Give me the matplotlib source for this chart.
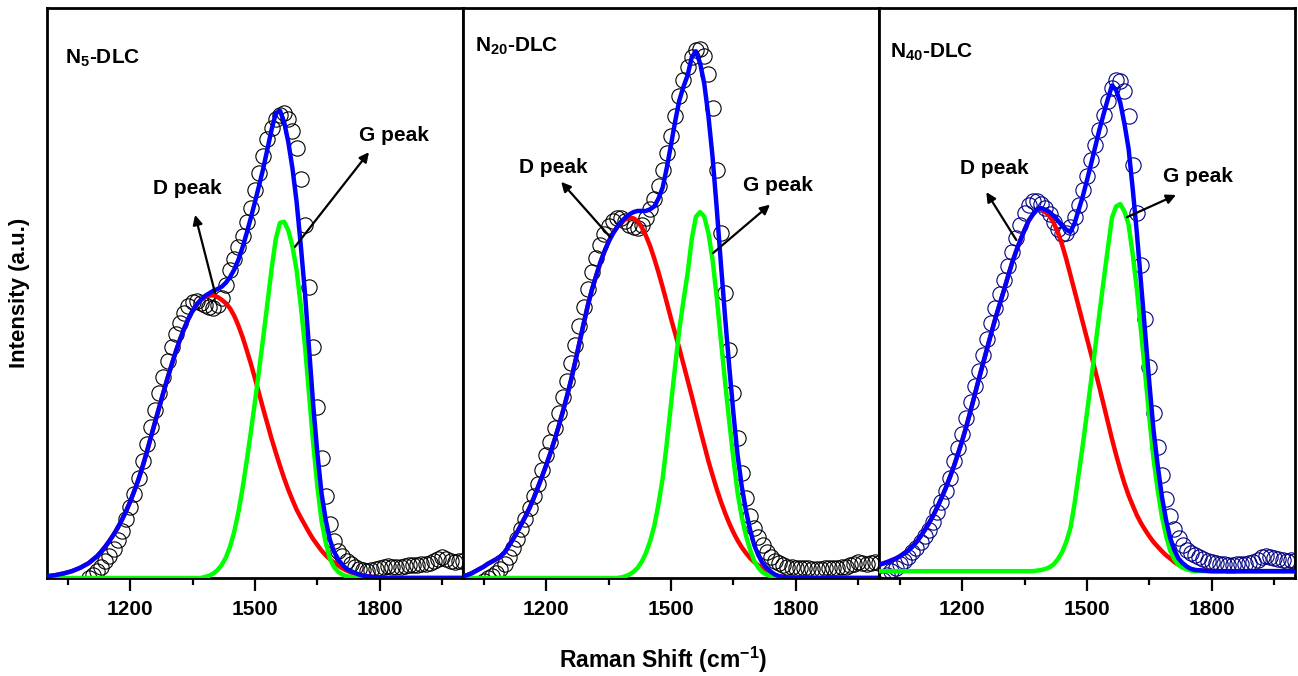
"""
Raman spectra of N-doped DLC films with D / G peak deconvolution.
Three side-by-side panels sharing the same Raman shift axis.
"""

import numpy as np
import matplotlib
matplotlib.use("Agg")
import matplotlib.pyplot as plt
from matplotlib.ticker import MultipleLocator, AutoMinorLocator

plt.rcParams["font.family"] = "Liberation Sans"
plt.rcParams["mathtext.fontset"] = "custom"
plt.rcParams["mathtext.rm"] = "Liberation Sans:bold"
plt.rcParams["mathtext.bf"] = "Liberation Sans:bold"

# ============================================================
# DATA
# ============================================================

# everything is sampled every 10 cm-1; fits run from 1000 to 2000
FIT_START = 1000
STEP = 10

# ---- N5-DLC ----
n5_data_start = 1100
n5_data = [0.0, 0.5, 1.2, 2.0, 2.9, 3.9, 5.1, 6.6, 8.3, 10.3,
           12.5, 14.8, 17.5, 20.5, 23.5, 26.5, 29.5, 32.5, 35.2, 38.0,
           40.5, 42.8, 44.8, 46.5, 47.8, 48.5, 48.6, 48.3, 47.9, 47.5,
           47.4, 47.9, 49.2, 51.4, 54.0, 56.0, 58.0, 60.0, 62.5, 65.0,
           68.0, 71.0, 74.0, 77.0, 79.0, 80.5, 81.2, 81.5, 80.5, 78.5,
           75.5, 70.0, 62.0, 51.0, 40.5, 30.0, 21.0, 14.3, 9.5, 6.5,
           4.8, 3.8, 3.0, 2.4, 1.9, 1.5, 1.4, 1.3, 1.4, 1.6,
           1.8, 2.0, 2.1, 2.0, 1.9, 2.0, 2.1, 2.2, 2.3, 2.3,
           2.4, 2.5, 2.7, 3.0, 3.4, 3.6, 3.4, 3.0, 2.8, 2.9,
           3.0]
n5_d_fit = [0.3, 0.4, 0.5, 0.65, 0.8, 1.0, 1.2, 1.5, 1.8, 2.2,
            2.6, 3.2, 3.8, 4.6, 5.5, 6.5, 7.6, 8.8, 10.2, 11.7,
            13.4, 15.3, 17.3, 19.6, 22.1, 24.8, 27.4, 30.0, 32.6, 35.1,
            37.5, 39.8, 41.9, 43.8, 45.5, 46.9, 48.0, 48.8, 49.3, 49.55,
            49.6, 49.3, 48.8, 48.2, 47.3, 46.0, 44.3, 42.3, 40.0, 37.6,
            35.0, 32.3, 29.6, 27.0, 24.4, 22.0, 19.7, 17.5, 15.5, 13.7,
            12.0, 10.6, 9.3, 8.0, 6.8, 5.8, 4.8, 4.0, 3.3, 2.7,
            2.2, 1.7, 1.3, 1.0, 0.8, 0.6, 0.4, 0.3, 0.2, 0.15,
            0.1, 0.05, 0, 0, 0, 0, 0, 0, 0, 0,
            0, 0, 0, 0, 0, 0, 0, 0, 0, 0,
            0]
n5_g_fit = [0, 0, 0, 0, 0, 0, 0, 0, 0, 0,
            0, 0, 0, 0, 0, 0, 0, 0, 0, 0,
            0, 0, 0, 0, 0, 0, 0, 0, 0, 0,
            0, 0, 0, 0, 0, 0, 0, 0, 0.2, 0.4,
            0.8, 1.4, 2.3, 3.6, 5.5, 8.1, 11.5, 15.7, 20.5, 25.6,
            31.0, 36.6, 42.3, 48.3, 54.3, 59.5, 62.3, 62.5, 61.0, 58.2,
            54.0, 47.8, 40.8, 32.2, 23.5, 16.0, 10.0, 6.2, 3.4, 1.9,
            1.1, 0.6, 0.3, 0.2, 0.1, 0, 0, 0, 0, 0,
            0, 0, 0, 0, 0, 0, 0, 0, 0, 0,
            0, 0, 0, 0, 0, 0, 0, 0, 0, 0,
            0]

# ---- N20-DLC ----
n20_data_start = 1050
n20_data = [-0.5, 0.0, 0.3, 0.8, 1.5,
            2.5, 3.7, 5.2, 6.9, 8.6, 10.3, 12.2, 14.3, 16.5, 19.0,
            21.5, 23.8, 26.4, 29.0, 31.7, 34.6, 37.7, 40.9, 44.2, 47.5,
            50.7, 53.6, 56.2, 58.5, 60.4, 61.8, 62.7, 63.2, 63.2, 62.7,
            62.0, 61.5, 61.4, 62.0, 63.2, 64.8, 66.5, 68.8, 71.5, 74.5,
            77.5, 81.0, 84.5, 87.3, 89.6, 91.4, 92.6, 92.8, 91.5, 88.5,
            82.5, 71.5, 60.5, 50.0, 40.0, 32.4, 24.5, 18.5, 14.0, 10.8,
            8.8, 7.2, 5.8, 4.6, 3.7, 3.0, 2.6, 2.3, 2.0, 1.9,
            1.8, 1.8, 1.7, 1.7, 1.6, 1.6, 1.6, 1.7, 1.7, 1.8,
            1.8, 1.9, 2.0, 2.2, 2.5, 2.8, 2.7, 2.5, 2.6, 2.8,
            2.6]
n20_d_fit = [0.3, 0.5, 0.8, 1.2, 1.6, 2.0, 2.5, 2.9, 3.3, 3.8,
             4.5, 5.6, 6.8, 8.0, 9.4, 10.8, 12.3, 14.0, 15.9, 17.8,
             19.8, 21.9, 24.2, 26.6, 29.2, 31.9, 34.8, 38.0, 41.3, 44.6,
             47.8, 50.6, 53.0, 55.3, 57.3, 59.0, 60.4, 61.5, 62.4, 62.9,
             63.2, 63.1, 62.6, 61.5, 60.0, 58.2, 56.0, 53.6, 51.0, 48.3,
             45.5, 42.9, 40.3, 37.5, 34.7, 31.9, 29.0, 26.1, 23.3, 20.5,
             18.0, 15.6, 13.4, 11.4, 9.6, 8.0, 6.6, 5.4, 4.4, 3.5,
             2.8, 2.2, 1.6, 1.2, 0.8, 0.5, 0.3, 0.2, 0.1, 0.05,
             0, 0, 0, 0, 0, 0, 0, 0, 0, 0,
             0, 0, 0, 0, 0, 0, 0, 0, 0, 0,
             0]
n20_g_fit = [0, 0, 0, 0, 0, 0, 0, 0, 0, 0,
             0, 0, 0, 0, 0, 0, 0, 0, 0, 0,
             0, 0, 0, 0, 0, 0, 0, 0, 0, 0,
             0, 0, 0, 0, 0, 0, 0, 0, 0.1, 0.3,
             0.6, 1.1, 1.8, 2.9, 4.4, 6.5, 9.2, 13.0, 17.5, 23.7,
             30.5, 37.2, 43.5, 48.7, 53.5, 59.5, 63.4, 64.2, 63.4, 60.5,
             55.8, 49.2, 41.7, 34.4, 27.5, 20.9, 15.0, 10.7, 7.5, 5.0,
             3.0, 1.8, 1.0, 0.6, 0.3, 0.1, 0, 0, 0, 0,
             0, 0, 0, 0, 0, 0, 0, 0, 0, 0,
             0, 0, 0, 0, 0, 0, 0, 0, 0, 0,
             0]

# ---- N40-DLC ----
n40_data_start = 1000
n40_data = [-1.0, -0.3, 0.5, 1.2, 1.8, 2.4, 3.0, 3.7, 4.5, 5.3,
            6.3, 7.3, 8.5, 9.9, 11.5, 13.3, 15.3, 17.6, 20.5, 22.8,
            25.3, 28.0, 30.8, 33.6, 36.4, 39.2, 42.0, 44.7, 47.3, 49.8,
            52.2, 54.7, 57.2, 59.7, 62.0, 64.0, 65.4, 66.2, 66.2, 65.7,
            64.9, 63.8, 62.5, 61.2, 60.4, 60.5, 61.5, 63.3, 65.5, 68.0,
            70.6, 73.3, 76.0, 78.6, 81.2, 83.6, 86.0, 87.4, 87.2, 85.5,
            81.0, 72.5, 64.0, 55.0, 45.5, 37.0, 29.0, 23.0, 18.0, 13.8,
            10.8, 8.6, 7.0, 5.8, 5.0, 4.4, 4.0, 3.6, 3.3, 3.0,
            2.8, 2.6, 2.5, 2.4, 2.3, 2.3, 2.4, 2.5, 2.5, 2.6,
            2.8, 3.2, 3.6, 3.8, 3.7, 3.5, 3.3, 3.1, 3.0, 3.1,
            3.0]
n40_d_fit = [1.1, 1.35, 1.6, 1.9, 2.2, 2.6, 3.1, 3.6, 4.3, 5.1,
             6.1, 7.2, 8.4, 9.7, 11.2, 12.8, 14.5, 16.4, 18.4, 20.6,
             22.9, 25.4, 28.1, 30.9, 33.7, 36.4, 39.1, 41.8, 44.4, 46.8,
             49.2, 51.7, 54.1, 56.2, 58.1, 59.9, 61.5, 62.6, 63.4, 63.5,
             63.0, 62.3, 61.1, 59.4, 57.3, 54.8, 52.0, 49.2, 46.4, 43.6,
             40.8, 38.0, 35.1, 32.2, 29.2, 26.2, 23.2, 20.4, 17.8, 15.4,
             13.3, 11.5, 9.8, 8.4, 7.2, 6.1, 5.1, 4.3, 3.5, 2.8,
             2.2, 1.6, 1.1, 0.8, 0.5, 0.3, 0.2, 0.15, 0.1, 0.05,
             0, 0, 0, 0, 0, 0, 0, 0, 0, 0,
             0, 0, 0, 0, 0, 0, 0, 0, 0, 0,
             0]
n40_g_fit = [0, 0, 0, 0, 0, 0, 0, 0, 0, 0,
             0, 0, 0, 0, 0, 0, 0, 0, 0, 0,
             0, 0, 0, 0, 0, 0, 0, 0, 0, 0,
             0, 0, 0, 0, 0, 0, 0, 0, 0.1, 0.2,
             0.4, 0.7, 1.2, 2.1, 3.3, 5.1, 7.5, 11.8, 17.0, 22.2,
             27.8, 33.5, 39.4, 45.3, 51.0, 56.6, 62.0, 64.0, 64.4, 63.1,
             60.8, 55.5, 49.4, 42.0, 34.5, 26.8, 19.6, 14.2, 9.6, 6.2,
             3.6, 2.1, 1.1, 0.6, 0.3, 0.1, 0, 0, 0, 0,
             0, 0, 0, 0, 0, 0, 0, 0, 0, 0,
             0, 0, 0, 0, 0, 0, 0, 0, 0, 0,
             0]

labels = [r"N$_{\mathbf{5}}$-DLC", r"N$_{\mathbf{20}}$-DLC", r"N$_{\mathbf{40}}$-DLC"]
baselines = [0.0, 0.0, 1.2]
marker_colors = ["black", "black", "#000080"]

panels = [
    (n5_data_start, n5_data, n5_d_fit, n5_g_fit),
    (n20_data_start, n20_data, n20_d_fit, n20_g_fit),
    (n40_data_start, n40_data, n40_d_fit, n40_g_fit),
]

# annotation layout per panel: (text xy, arrow tail, arrow head)
d_notes = [((1337, 68.4), (1404, 50.0), (1356, 63.7)),
           ((1217, 72.1), (1354, 59.8), (1236, 69.5)),
           ((1277, 71.9), (1330, 59.3), (1258, 67.7))]
g_notes = [((1834, 77.7), (1596, 58.1), (1774, 74.7)),
           ((1757, 68.8), (1601, 57.0), (1738, 65.5)),
           ((1766, 70.5), (1596, 63.3), (1714, 67.2))]
label_pos = [(0.043, 0.903), (0.029, 0.923), (0.026, 0.914)]

# ============================================================
# PLOT
# ============================================================

fig = plt.figure(figsize=(12.98, 6.76), dpi=100)
W, H = 1298, 676
lefts = [47, 463, 879]

for i, (start, data, d_fit, g_fit) in enumerate(panels):
    ax = fig.add_axes([lefts[i] / W, 98 / H, 416 / W, 570 / H])

    x_data = start + STEP * np.arange(len(data))
    x_fit = FIT_START + STEP * np.arange(len(d_fit))
    d = np.array(d_fit) + baselines[i]
    g = np.array(g_fit) + baselines[i]
    total = np.array(d_fit) + np.array(g_fit) + baselines[i]

    ax.plot(x_data, data, "o", mfc="none", mec=marker_colors[i], ms=11,
            mew=0.8, zorder=2)
    ax.plot(x_fit, d, color="#ff0000", lw=3.2, zorder=3, solid_joinstyle="round")
    ax.plot(x_fit, g, color="#00ff00", lw=3.2, zorder=4, solid_joinstyle="round")
    ax.plot(x_fit, total, color="#0000ff", lw=3.2, zorder=5, solid_joinstyle="round")

    for (txt, tail, head), name in ((d_notes[i], "D peak"), (g_notes[i], "G peak")):
        ax.annotate("", xy=head, xytext=tail,
                    arrowprops=dict(arrowstyle="-|>", color="black", lw=1.6,
                                    mutation_scale=14, shrinkA=0, shrinkB=0),
                    zorder=6)
        ax.text(txt[0], txt[1], name, fontsize=15, fontweight="bold",
                ha="center", va="center", zorder=6)

    ax.text(label_pos[i][0], label_pos[i][1], labels[i], transform=ax.transAxes,
            fontsize=15, fontweight="bold", ha="left", va="baseline")

    ax.set_xlim(1000, 2000)
    ax.set_ylim(0, 100)
    ax.xaxis.set_major_locator(MultipleLocator(300))
    ax.xaxis.set_minor_locator(AutoMinorLocator(2))
    ax.tick_params(axis="x", which="major", direction="out", length=9.5,
                   width=1.6, labelsize=15, pad=6)
    ax.tick_params(axis="x", which="minor", direction="out", length=5, width=1.6)
    ax.tick_params(axis="y", left=False, labelleft=False)
    for lab in ax.get_xticklabels():
        lab.set_fontweight("bold")
    for sp in ax.spines.values():
        sp.set_linewidth(2.0)

fig.text(663 / W, 1 - 660 / H, r"Raman Shift (cm$^{\mathbf{-1}}$)", fontsize=16.5,
         fontweight="bold", ha="center", va="center")
fig.text(20 / W, 1 - 293 / H, "Intensity (a.u.)", fontsize=16, fontweight="bold",
         rotation=90, ha="center", va="center")

fig.savefig("out.png", dpi=100)
